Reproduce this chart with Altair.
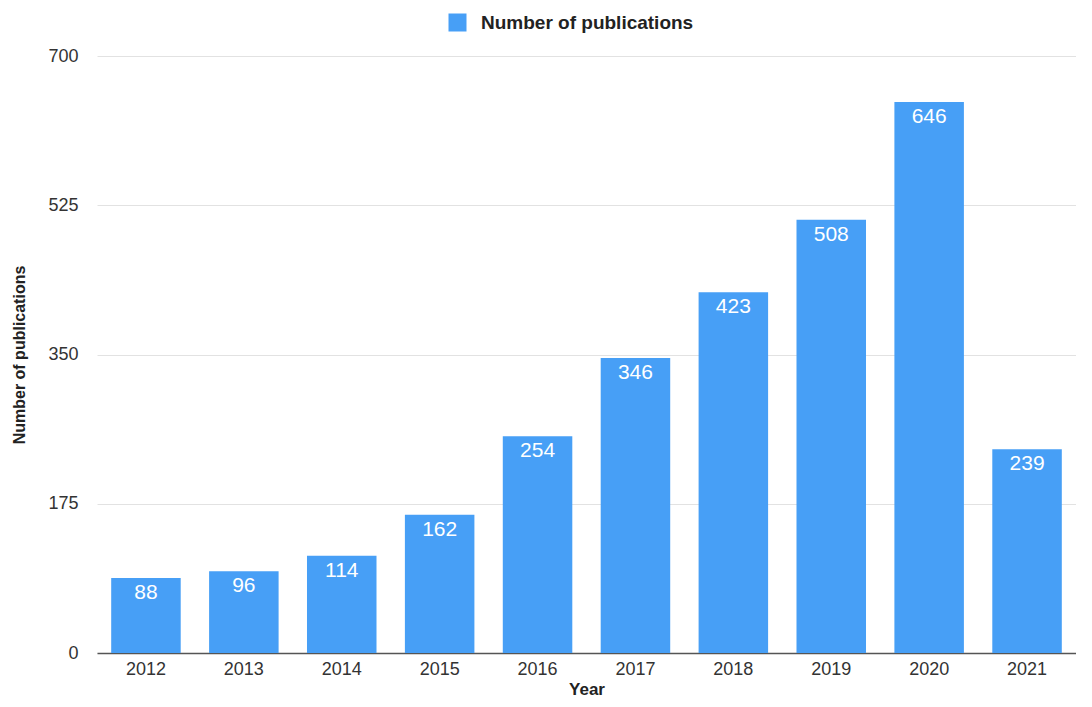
import altair as alt
import pandas as pd

years = ["2012", "2013", "2014", "2015", "2016", "2017", "2018", "2019", "2020", "2021"]
counts = [88, 96, 114, 162, 254, 346, 423, 508, 646, 239]
series = ["Number of publications"] * len(years)
y_ticks = [0, 175, 350, 525, 700]

df = pd.DataFrame({"Year": years, "Count": counts, "Series": series})

FONT = "Liberation Sans"
BLUE = "#479ff6"

base = alt.Chart(df).encode(
    x=alt.X("Year:N", sort=years,
            scale=alt.Scale(paddingInner=0.29, paddingOuter=0.145),
            axis=alt.Axis(title="Year", labelAngle=0, labelFontSize=18, labelColor="#333333",
                          labelFont=FONT, labelPadding=7, ticks=False,
                          domainColor="#555555", domainWidth=1.5,
                          titleFont=FONT, titleFontSize=17, titleFontWeight="bold",
                          titleColor="#222222", titlePadding=3, grid=False)),
    y=alt.Y("Count:Q", scale=alt.Scale(domain=[0, 700], nice=False),
            axis=alt.Axis(title="Number of publications", values=y_ticks, labelFontSize=18,
                          labelColor="#333333", labelFont=FONT, labelPadding=19, ticks=False,
                          domain=False, gridColor="#e2e2e2", gridWidth=1,
                          titleFont=FONT, titleFontSize=16, titleFontWeight="bold",
                          titleColor="#222222", titlePadding=20)),
)

bars = base.mark_bar(color=BLUE).encode(
    color=alt.Color("Series:N", scale=alt.Scale(range=[BLUE]),
                    legend=alt.Legend(title=None, orient="none", legendX=351, legendY=-43,
                                      symbolType="square", symbolSize=324, symbolStrokeWidth=0,
                                      labelFont=FONT, labelFontSize=19, labelFontWeight="bold",
                                      labelColor="#222222", labelOffset=14, labelLimit=400))
)

labels = base.mark_text(color="white", font=FONT, fontSize=21, baseline="top", dy=4).encode(
    text="Count:Q"
)

chart = (bars + labels).properties(
    width=979, height=597,
    autosize=alt.AutoSizeParams(type="none"),
    padding={"left": 89, "top": 48, "right": 0, "bottom": 46},
).configure_view(stroke=None)

chart.save("out.html", embed_options={"renderer": "svg", "actions": False})
